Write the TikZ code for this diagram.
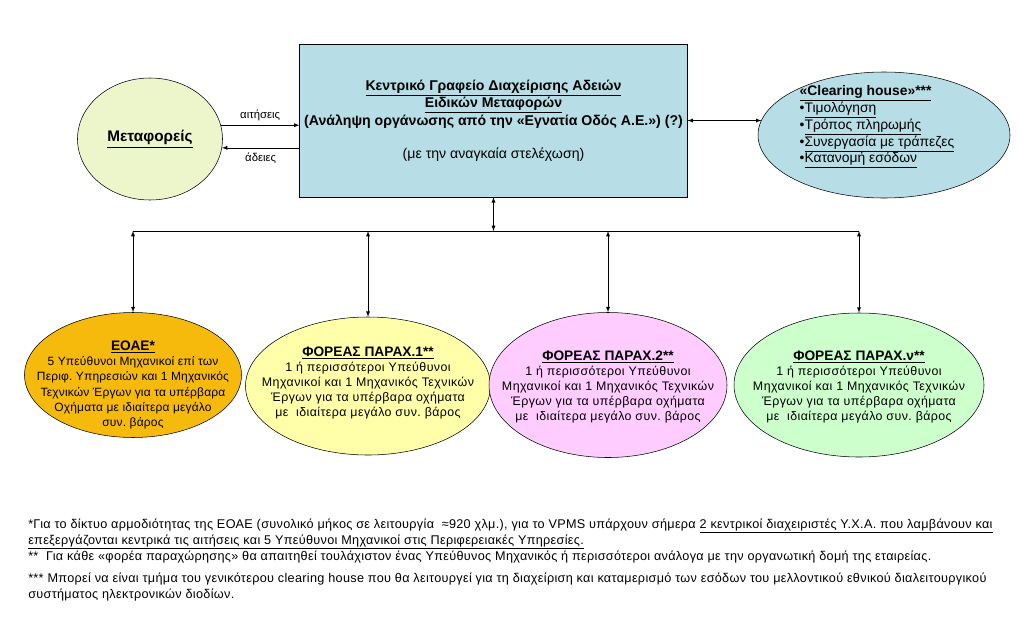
\documentclass[tikz,border=0pt]{standalone}
\usepackage{fontspec}
\setmainfont{Liberation Sans}
\newfontfamily\widefont[LetterSpace=3.5]{Liberation Sans}
\newfontfamily\eoaefont[LetterSpace=1.5]{Liberation Sans}
\newfontfamily\notefont[LetterSpace=2.5]{Liberation Sans}
\usetikzlibrary{arrows,shapes.geometric}
\frenchspacing
\definecolor{boxblue}{RGB}{183,222,230}
\definecolor{metgreen}{RGB}{236,246,202}
\definecolor{eoaeorange}{RGB}{246,186,12}
\definecolor{foryellow}{RGB}{255,255,170}
\definecolor{forpink}{RGB}{255,204,255}
\definecolor{forgreen}{RGB}{204,255,204}
\newcommand{\ovtitle}[1]{{\normalfont\fontsize{10.3}{11.4}\selectfont\textbf{\underline{#1}}}}
\tikzset{
  oval/.style={ellipse,draw,inner sep=0pt},
  ovaltext/.style={align=center,inner sep=0pt,
    font=\widefont\fontsize{9.3}{11.4}\selectfont},
  note/.style={anchor=base west,inner sep=0pt,
    font=\notefont\fontsize{9.5}{10}\selectfont}
}

\begin{document}
\begin{tikzpicture}[x=0.75pt,y=-0.75pt,>=latex]
\useasboundingbox (0,0) rectangle (1024,625);
\node[draw,fill=boxblue,minimum width=288.75pt,minimum height=114.75pt,
  align=center,font=\fontsize{10.6}{12}\selectfont] (grafeio) at (493.5,120.5)
  {\textbf{\underline{Κεντρικό Γραφείο Διαχείρισης Αδειών}}\\
   \textbf{\underline{Ειδικών Μεταφορών}}\\
   \textbf{(Ανάληψη οργάνωσης από την «Εγνατία Οδός Α.Ε.») (?)}\\[12.5pt]
   (με την αναγκαία στελέχωση)};
\node[oval,fill=metgreen,minimum width=108.75pt,minimum height=91.5pt,
  font=\fontsize{11.5}{12}\selectfont] (metaf)
  at (150,139) {\textbf{\underline{Μεταφορείς}}};
\node[oval,fill=boxblue,minimum width=189pt,minimum height=94.5pt] (clearing)
  at (884,135) {};
\node[align=left,inner sep=0pt,font=\fontsize{10.4}{12.6}\selectfont] (cltext)
  at (877,127)
  {\textbf{\underline{«Clearing house»***}}\\
   •\underline{Τιμολόγηση}\\
   •\underline{Τρόπος πληρωμής}\\
   •\underline{Συνεργασία με τράπεζες}\\
   •\underline{Κατανομή εσόδων}};
% lower ellipses
\node[oval,fill=eoaeorange,minimum width=162.75pt,minimum height=93.75pt] (eoae)
  at (133,375) {};
\node[oval,fill=foryellow,minimum width=183.75pt,minimum height=103.5pt] (foreas1)
  at (368,386) {};
\node[oval,fill=forpink,minimum width=178.5pt,minimum height=108.75pt] (foreas2)
  at (608,385) {};
\node[oval,fill=forgreen,minimum width=187.5pt,minimum height=108pt] (foreasv)
  at (859,385) {};
\node[ovaltext,font=\eoaefont\fontsize{9}{11.4}\selectfont] (eoaetxt) at (133,385)
  {\ovtitle{ΕΟΑΕ*}\\
   5 Υπεύθυνοι Μηχανικοί επί των\\
   Περιφ. Υπηρεσιών και 1 Μηχανικός\\
   Τεχνικών Έργων για τα υπέρβαρα\\
   Οχήματα με ιδιαίτερα μεγάλο\\
   συν. βάρος};
\node[ovaltext] (f1txt) at (368,383)
  {\ovtitle{ΦΟΡΕΑΣ ΠΑΡΑΧ.1**}\\
   1 ή περισσότεροι Υπεύθυνοι\\
   Μηχανικοί και 1 Μηχανικός Τεχνικών\\
   Έργων για τα υπέρβαρα οχήματα\\
   με\ \ ιδιαίτερα μεγάλο συν. βάρος};
\node[ovaltext] (f2txt) at (608,387)
  {\ovtitle{ΦΟΡΕΑΣ ΠΑΡΑΧ.2**}\\
   1 ή περισσότεροι Υπεύθυνοι\\
   Μηχανικοί και 1 Μηχανικός Τεχνικών\\
   Έργων για τα υπέρβαρα οχήματα\\
   με\ \ ιδιαίτερα μεγάλο συν. βάρος};
\node[ovaltext] (fvtxt) at (859,387)
  {\ovtitle{ΦΟΡΕΑΣ ΠΑΡΑΧ.ν**}\\
   1 ή περισσότεροι Υπεύθυνοι\\
   Μηχανικοί και 1 Μηχανικός Τεχνικών\\
   Έργων για τα υπέρβαρα οχήματα\\
   με\ \ ιδιαίτερα μεγάλο συν. βάρος};
\begin{scope}[font=\fontsize{8.5}{10}\selectfont]
  \draw[->] (metaf.11) -- (metaf.11 -| grafeio.west)
    node[midway,above] {αιτήσεις};
  \draw[<-] (metaf.-7) -- (metaf.-7 -| grafeio.west)
    node[midway,below] {άδειες};
\end{scope}
\draw[<->] (grafeio.east) -- (grafeio.east -| clearing.173);
\coordinate (bus) at (493.5,231);
\draw[<->] (grafeio.south) -- (bus);
\draw (bus -| eoae.north) -- (bus -| foreasv.north);
\foreach \f in {eoae,foreas1,foreas2,foreasv}
  \draw[<->] (bus -| \f.north) -- (\f.north);
% footnotes
\node[note] (n1) at (28,528) {*Για το δίκτυο αρμοδιότητας της ΕΟΑΕ (συνολικό μήκος σε λειτουργία\ \ ≈920 χλμ.), για το VPMS υπάρχουν σήμερα \underline{2 κεντρικοί διαχειριστές Υ.Χ.Α. που λαμβάνουν και}};
\node[note] (n2) at (28,544) {\underline{επεξεργάζονται κεντρικά τις αιτήσεις και 5 Υπεύθυνοι Μηχανικοί στις Περιφερειακές Υπηρεσίες.}};
\node[note] (n3) at (28,560) {**\ \ Για κάθε «φορέα παραχώρησης» θα απαιτηθεί τουλάχιστον ένας Υπεύθυνος Μηχανικός ή περισσότεροι ανάλογα με την οργανωτική δομή της εταιρείας.};
\node[note] (n4) at (28,582) {*** Μπορεί να είναι τμήμα του γενικότερου clearing house που θα λειτουργεί για τη διαχείριση και καταμερισμό των εσόδων του μελλοντικού εθνικού διαλειτουργικού};
\node[note] (n5) at (28,598) {συστήματος ηλεκτρονικών διοδίων.};
\end{tikzpicture}
\end{document}
